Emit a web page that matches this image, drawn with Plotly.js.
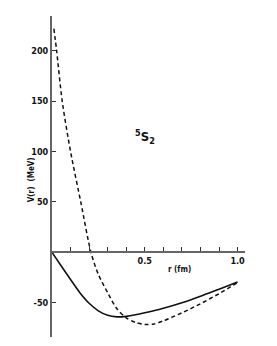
<!DOCTYPE html>
<html>
<head>
<meta charset="utf-8">
<script src="https://cdn.plot.ly/plotly-3.0.1.min.js"></script>
<style>html,body{margin:0;padding:0;background:#fff;}#chart{width:277px;height:346px;}</style>
</head>
<body>
<div id="chart"></div>
<script>
// Data
var rSolid = [0, 0.05, 0.1, 0.15, 0.2, 0.25, 0.3, 0.35, 0.4, 0.45, 0.5, 0.6, 0.7, 0.8, 0.9, 1.0];
var vSolid = [0, -13.5, -27, -40, -50.5, -58, -62.5, -64, -63.5, -62, -60, -55.5, -50, -43.5, -36.5, -29.5];

var rDashed = [0.01, 0.025, 0.055, 0.1, 0.155, 0.21, 0.25, 0.3, 0.35, 0.4, 0.45, 0.5, 0.55, 0.6, 0.7, 0.8, 0.9, 1.0];
var vDashed = [222, 200, 150, 100, 50, 0, -22, -40, -56, -65, -69.5, -71.5, -71, -68, -60, -51, -41, -30];

var xTickVals = [0.5, 1.0];
var xTickText = ['0.5', '1.0'];
var xMinorStep = 0.1;
var yTickVals = [-50, 50, 100, 150, 200];
var yTickText = ['-50', '50', '100', '150', '200'];

var xRange = [0, 1.04];
var yRange = [-84, 234.5];

var font = 'DejaVu Sans Condensed, DejaVu Sans, sans-serif';

var traces = [
  {x: rSolid, y: vSolid, mode: 'lines', line: {color: '#111', width: 1.6, shape: 'spline', smoothing: 0.8}, hoverinfo: 'none'},
  {x: rDashed, y: vDashed, mode: 'lines', line: {color: '#111', width: 1.5, dash: '4px,3px', shape: 'spline', smoothing: 0.8}, hoverinfo: 'none'}
];

var layout = {
  width: 277, height: 346,
  margin: {l: 52, r: 32, t: 16, b: 9},
  paper_bgcolor: '#fff', plot_bgcolor: '#fff',
  showlegend: false,
  xaxis: {
    range: xRange, anchor: 'free',
    position: (0 - yRange[0]) / (yRange[1] - yRange[0]),
    showline: true, linecolor: '#666', linewidth: 2,
    showgrid: false, zeroline: false,
    ticks: 'inside', ticklen: 4, tickcolor: '#333', tickwidth: 1,
    tickvals: xTickVals, ticktext: xTickText,
    minor: {ticks: 'inside', dtick: xMinorStep, tick0: 0, ticklen: 4, tickcolor: '#333', tickwidth: 1, showgrid: false},
    tickfont: {family: font, size: 9, color: '#111', weight: 'bold'}
  },
  yaxis: {
    range: yRange,
    showline: true, linecolor: '#666', linewidth: 2,
    showgrid: false, zeroline: false,
    ticks: 'inside', ticklen: 4, tickcolor: '#333', tickwidth: 1,
    tickvals: yTickVals, ticktext: yTickText,
    tickfont: {family: font, size: 9, color: '#111', weight: 'bold'}
  },
  annotations: [
    {x: 0.5, y: 114, xref: 'x', yref: 'y', text: '<sup>5</sup>S<sub>2</sub>', showarrow: false,
     font: {family: font, size: 13, color: '#111', weight: 'bold'}},
    {x: 0.685, y: -17, xref: 'x', yref: 'y', text: 'r (fm)', showarrow: false,
     font: {family: font, size: 8, color: '#111', weight: 'bold'}},
    {x: -0.14, y: 72, xref: 'paper', yref: 'y', text: 'V(r)  (MeV)', textangle: -90, showarrow: false,
     font: {family: font, size: 8, color: '#111', weight: 'bold'}}
  ]
};

Plotly.newPlot('chart', traces, layout, {staticPlot: true, displayModeBar: false});
</script>
</body>
</html>
